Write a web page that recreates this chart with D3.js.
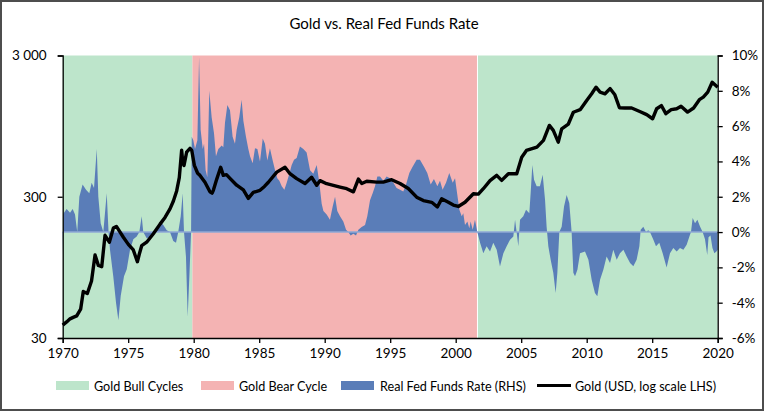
<!DOCTYPE html>
<html>
<head>
<meta charset="utf-8">
<script src="https://cdn.jsdelivr.net/npm/d3@7"></script>
<style>
  body { margin: 0; background: #fff; }
  svg { display: block; font-family: Lato, "Liberation Sans Narrow", "Open Sans", sans-serif; }
</style>
</head>
<body>
<script>
// gold price, USD/oz  [year, price]
var gold = [
  [1970.0, 37], [1970.3, 39], [1970.56, 41], [1970.8, 42], [1971.07, 43], [1971.37, 48],
  [1971.57, 64], [1971.88, 62], [1972.2, 76], [1972.47, 116], [1972.72, 98], [1972.98, 96],
  [1973.23, 160], [1973.56, 143], [1973.87, 180], [1974.1, 185], [1974.32, 172], [1974.63, 155],
  [1975.01, 138], [1975.39, 126], [1975.7, 104], [1975.85, 118], [1976.03, 135], [1976.41, 143],
  [1976.92, 164], [1977.43, 192], [1977.81, 214], [1978.19, 246], [1978.45, 280], [1978.7, 330],
  [1978.9, 410], [1979.08, 640], [1979.17, 520], [1979.26, 500], [1979.46, 620], [1979.72, 660],
  [1979.85, 640], [1980.05, 500], [1980.3, 440], [1980.48, 425], [1980.86, 380], [1981.24, 325],
  [1981.4, 318], [1981.5, 333], [1981.76, 400], [1982.06, 485], [1982.26, 425], [1982.5, 430],
  [1982.77, 405], [1983.28, 362], [1983.79, 335], [1984.17, 292], [1984.55, 322], [1985.06, 333],
  [1985.4, 355], [1985.7, 380], [1986.34, 448], [1986.97, 485], [1987.35, 437], [1987.86, 403],
  [1988.5, 372], [1989.0, 412], [1989.39, 362], [1989.64, 390], [1990.15, 371], [1990.66, 361],
  [1991.17, 351], [1991.68, 342], [1992.19, 325], [1992.57, 400], [1992.83, 372], [1993.21, 386],
  [1993.97, 381], [1994.47, 381], [1995.11, 396], [1995.75, 372], [1996.38, 343], [1997.02, 298],
  [1997.53, 282], [1998.17, 274], [1998.6, 254], [1998.93, 290], [1999.44, 274], [1999.82, 262],
  [2000.2, 256], [2000.71, 274], [2001.35, 315], [2001.73, 313], [2002.11, 342], [2002.62, 390],
  [2003.13, 425], [2003.51, 392], [2004.02, 437], [2004.66, 437], [2005.04, 572], [2005.4, 638],
  [2006.2, 674], [2006.7, 752], [2007.15, 960], [2007.45, 885], [2007.83, 731], [2008.09, 908],
  [2008.6, 982], [2008.98, 1190], [2009.5, 1240], [2010.0, 1443], [2010.38, 1608], [2010.71, 1790],
  [2011.02, 1650], [2011.4, 1608], [2011.78, 1750], [2012.15, 1580], [2012.5, 1280], [2012.92, 1275],
  [2013.43, 1275], [2014.05, 1205], [2014.58, 1145], [2015.03, 1070], [2015.34, 1259], [2015.7, 1327],
  [2016.04, 1162], [2016.45, 1240], [2016.87, 1259], [2017.2, 1310], [2017.7, 1192], [2018.16, 1275],
  [2018.6, 1460], [2018.9, 1521], [2019.24, 1650], [2019.58, 1941], [2020.0, 1790]
]

// real fed funds rate, %  [year, rate]
var realRate = [
  [1970.0, -1.3], [1970.05, 1.0], [1970.1, 1.1], [1970.3, 1.3], [1970.56, 1.1], [1970.76, 1.3],
  [1970.94, 1.0], [1971.11, 0], [1971.27, 2.0], [1971.52, 2.7], [1971.78, 2.4], [1972.03, 2.2],
  [1972.21, 2.8], [1972.39, 2.5], [1972.6, 4.7], [1972.72, 2.0], [1972.9, 0.5], [1973.1, 0],
  [1973.36, 2.2], [1973.5, 0], [1973.61, -1.0], [1973.86, -2.5], [1974.07, -4.0], [1974.25, -5.0],
  [1974.43, -3.6], [1974.68, -2.5], [1974.89, -2.1], [1975.14, -1.0], [1975.39, -0.4], [1975.65, -0.25],
  [1975.85, 0], [1976.03, 0.9], [1976.15, 0], [1976.41, -0.35], [1976.79, -0.25], [1977.18, 0.1],
  [1977.43, 0.6], [1977.68, 0.4], [1977.94, 0.1], [1978.19, 0], [1978.44, -0.5], [1978.65, -0.6],
  [1978.82, 0], [1979.01, 0.9], [1979.16, 2.2], [1979.26, 0], [1979.41, -1.4], [1979.54, -4.8],
  [1979.67, -2.5], [1979.8, 0], [1979.85, 5.4], [1979.97, 5.2], [1980.1, 4.7], [1980.28, 5.2],
  [1980.41, 9.9], [1980.53, 5.8], [1980.69, 4.7], [1980.79, 5.0], [1980.91, 3.5], [1981.04, 3.1],
  [1981.19, 8.0], [1981.37, 6.5], [1981.55, 5.6], [1981.7, 4.3], [1981.88, 4.7], [1982.14, 4.9],
  [1982.26, 4.8], [1982.39, 6.2], [1982.57, 7.2], [1982.77, 6.9], [1982.97, 5.4], [1983.15, 5.0],
  [1983.28, 5.8], [1983.48, 6.5], [1983.66, 7.5], [1983.79, 6.3], [1983.99, 5.4], [1984.17, 4.7],
  [1984.3, 4.3], [1984.5, 3.9], [1984.68, 4.75], [1984.86, 4.7], [1985.06, 4.0], [1985.27, 5.3],
  [1985.44, 5.0], [1985.62, 4.05], [1985.82, 4.75], [1986.03, 4.05], [1986.21, 3.5], [1986.38, 3.05],
  [1986.54, 2.9], [1986.72, 2.6], [1986.92, 2.4], [1987.1, 2.8], [1987.3, 3.3], [1987.48, 3.8],
  [1987.66, 4.1], [1987.86, 4.2], [1988.11, 4.85], [1988.37, 4.7], [1988.62, 4.5], [1988.88, 3.5],
  [1989.13, 3.3], [1989.39, 3.8], [1989.59, 2.8], [1989.77, 1.6], [1989.9, 1.2], [1990.15, 1.0],
  [1990.4, 0.7], [1990.61, 1.45], [1990.79, 2.0], [1990.96, 1.2], [1991.17, 0.9], [1991.42, 0.6],
  [1991.63, 0.13], [1991.8, 0], [1991.98, -0.2], [1992.19, -0.1], [1992.39, -0.2], [1992.57, 0.13],
  [1992.82, 0.28], [1993.08, 0.4], [1993.25, 0.9], [1993.46, 1.8], [1993.66, 2.2], [1993.84, 2.6],
  [1994.02, 3.15], [1994.22, 3.15], [1994.48, 2.9], [1994.73, 3.15], [1994.98, 3.05], [1995.24, 2.8],
  [1995.49, 2.5], [1995.75, 2.4], [1996.0, 2.3], [1996.21, 2.7], [1996.46, 3.35], [1996.71, 3.7],
  [1997.02, 4.1], [1997.27, 4.1], [1997.58, 3.7], [1997.83, 3.35], [1998.09, 2.7], [1998.34, 3.0],
  [1998.6, 2.6], [1998.8, 2.9], [1999.0, 2.4], [1999.26, 2.8], [1999.51, 3.35], [1999.77, 2.8],
  [1999.95, 3.05], [2000.07, 2.4], [2000.28, 1.26], [2000.46, 0.9], [2000.58, 1.07], [2000.71, 0.4],
  [2000.89, 0.6], [2001.04, 0.22], [2001.14, 0.6], [2001.3, 0.13], [2001.47, 0.7], [2001.65, 0],
  [2001.86, -0.6], [2002.11, -1.2], [2002.36, -0.8], [2002.62, -1.1], [2002.87, -0.6], [2003.13, -1.0],
  [2003.38, -1.95], [2003.64, -1.2], [2003.89, -0.8], [2004.15, -0.43], [2004.4, -0.25], [2004.53, 0.7],
  [2004.65, 0], [2004.78, -0.8], [2004.91, 0.7], [2005.16, 0.9], [2005.37, 1.26], [2005.62, 1.07],
  [2005.72, 2.2], [2005.85, 3.8], [2005.98, 2.96], [2006.18, 2.6], [2006.43, 2.6], [2006.64, 3.25],
  [2006.82, 1.83], [2006.94, 0.3], [2007.07, -0.8], [2007.25, -1.57], [2007.45, -2.3], [2007.63, -3.45],
  [2007.76, -2.3], [2007.91, 0], [2008.09, 0.3], [2008.27, 1.45], [2008.47, 2.1], [2008.67, 1.64],
  [2008.85, 0], [2008.98, -2.3], [2009.11, -2.5], [2009.29, -2.13], [2009.49, -1.2], [2009.87, -1.1],
  [2010.13, -1.57], [2010.38, -2.7], [2010.63, -3.45], [2010.81, -3.64], [2011.02, -2.7], [2011.27, -2.13],
  [2011.52, -1.38], [2011.78, -1.75], [2012.03, -1.0], [2012.29, -1.57], [2012.54, -1.2], [2012.8, -1.0],
  [2013.05, -1.38], [2013.31, -1.75], [2013.56, -1.94], [2013.81, -1.57], [2014.02, -0.8], [2014.12, 0.13],
  [2014.32, 0.3], [2014.53, 0], [2014.7, 0.1], [2014.83, 0], [2015.09, -0.43], [2015.29, -0.8],
  [2015.54, -0.6], [2015.8, -1.2], [2016.1, -2.0], [2016.36, -1.2], [2016.61, -0.9], [2016.87, -1.1],
  [2017.12, -0.9], [2017.38, -1.0], [2017.63, -0.72], [2017.84, -0.25], [2017.96, 0], [2018.09, 0.8],
  [2018.27, 0.5], [2018.45, 0.7], [2018.65, 0.32], [2018.85, 0], [2019.03, -0.4], [2019.2, -1.3],
  [2019.3, -0.3], [2019.45, -0.2], [2019.6, -0.9], [2019.75, -1.2], [2019.9, -1.1], [2020.0, -1.0]
]

// bull / bear cycles
var cycleStart = [1970, 1979.9, 2001.7]
var cycleEnd = [1979.9, 2001.7, 2020]
var cycleType = ["bull", "bear", "bull"]

var xTicks = [1970, 1975, 1980, 1985, 1990, 1995, 2000, 2005, 2010, 2015, 2020]
var goldTicks = [30, 300, 3000]
var rateTicks = [-6, -4, -2, 0, 2, 4, 6, 8, 10]

var legendLabels = ["Gold Bull Cycles", "Gold Bear Cycle", "Real Fed Funds Rate (RHS)", "Gold (USD, log scale LHS)"]

var W = 768, H = 414
var mLeft = 62.7, mRight = 717.7, mTop = 55.5, mBottom = 338

var green = "#bde5cb", red = "#f4b3b3", blue = "#5a7db8"

var svg = d3.select("body").append("svg")
  .attr("width", W)
  .attr("height", H)

var x = d3.scaleLinear().domain([1970, 2020]).range([mLeft, mRight])
var yGold = d3.scaleLog().domain([30, 3000]).range([mBottom, mTop])
var yRate = d3.scaleLinear().domain([-6, 10]).range([mBottom, mTop])

// outer frame
svg.append("rect")
  .attr("x", 1).attr("y", 1)
  .attr("width", 762).attr("height", 409)
  .attr("fill", "#fff")
  .attr("stroke", "#4d4d4d")
  .attr("stroke-width", 2)

svg.append("text")
  .attr("x", 384).attr("y", 29)
  .attr("text-anchor", "middle")
  .attr("font-size", 15)
  .attr("fill", "#000")
  .text("Gold vs. Real Fed Funds Rate")

// cycle shading
svg.selectAll(".cycle")
  .data(cycleStart)
  .enter().append("rect")
  .attr("class", "cycle")
  .attr("x", function(d) { return x(d) })
  .attr("y", mTop)
  .attr("width", function(d, i) { return x(cycleEnd[i]) - x(d) - (i == 1 ? 1 : 0) })
  .attr("height", mBottom - mTop)
  .attr("fill", function(d, i) { return cycleType[i] == "bull" ? green : red })

// real rate area
var area = d3.area()
  .x(function(d) { return x(d[0]) })
  .y0(yRate(0))
  .y1(function(d) { return yRate(d[1]) })

svg.append("path")
  .datum(realRate)
  .attr("d", area)
  .attr("fill", blue)

svg.append("line")
  .attr("x1", mLeft).attr("x2", mRight)
  .attr("y1", yRate(0)).attr("y2", yRate(0))
  .attr("stroke", "#8fa9d6")
  .attr("stroke-width", 1.5)

// gold line
var line = d3.line()
  .x(function(d) { return x(d[0]) })
  .y(function(d) { return yGold(d[1]) })

svg.append("path")
  .datum(gold)
  .attr("d", line)
  .attr("fill", "none")
  .attr("stroke", "#000")
  .attr("stroke-width", 3.4)
  .attr("stroke-linejoin", "round")

// axes
var fmtGold = function(d) { return d >= 1000 ? d3.format(",")(d).replace(",", " ") : d }

svg.append("g")
  .attr("transform", "translate(0," + mBottom + ")")
  .call(d3.axisBottom(x).tickValues(xTicks).tickFormat(d3.format("d")).tickSize(5).tickPadding(5))

svg.append("g")
  .attr("transform", "translate(" + mLeft + ",0)")
  .call(d3.axisLeft(yGold).tickValues(goldTicks).tickFormat(fmtGold).tickSize(5).tickPadding(11))

svg.append("g")
  .attr("transform", "translate(" + mRight + ",0)")
  .call(d3.axisRight(yRate).tickValues(rateTicks).tickFormat(function(d) { return d + "%" }).tickSize(5).tickPadding(9))

svg.selectAll(".domain").attr("stroke", "#000").attr("stroke-width", 1.3)
svg.selectAll(".tick line").attr("stroke", "#000").attr("stroke-width", 1.3)
svg.selectAll(".tick text").attr("font-size", 13.5).attr("fill", "#000")
  .attr("font-family", "Lato, Liberation Sans Narrow, Open Sans, sans-serif")

// legend
var legendX = [56, 201, 341, 537]
var legend = svg.selectAll(".leg")
  .data(legendLabels)
  .enter().append("g")
  .attr("class", "leg")
  .attr("transform", function(d, i) { return "translate(" + legendX[i] + ",385)" })

legend.append("rect")
  .attr("x", 0).attr("y", -4)
  .attr("width", function(d, i) { return i == 3 ? 0 : 33 })
  .attr("height", 9)
  .attr("fill", function(d, i) { return [green, red, blue, "none"][i] })

legend.filter(function(d, i) { return i == 3 })
  .append("line")
  .attr("x1", 0).attr("x2", 34)
  .attr("y1", 0.5).attr("y2", 0.5)
  .attr("stroke", "#000")
  .attr("stroke-width", 3)

legend.append("text")
  .attr("x", function(d, i) { return i == 2 ? 39 : 38 })
  .attr("y", 5.5)
  .attr("font-size", 12.6)
  .attr("fill", "#000")
  .text(function(d) { return d })
</script>
</body>
</html>
